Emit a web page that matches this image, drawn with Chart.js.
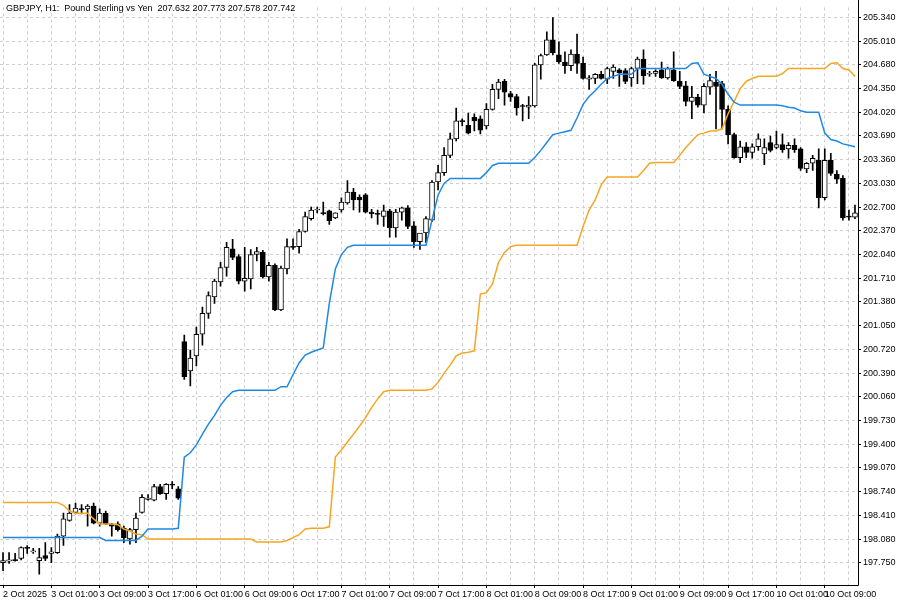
<!DOCTYPE html>
<html><head><meta charset="utf-8">
<script src="https://cdn.jsdelivr.net/npm/chart.js@4.4.1/dist/chart.umd.min.js"></script>
<style>html,body{margin:0;padding:0;background:#fff}#wrap{width:900px;height:600px}</style>
</head><body><div id="wrap"><canvas id="c" width="900" height="600"></canvas></div>
<script>
const titleText = "GBPJPY, H1:  Pound Sterling vs Yen  207.632 207.773 207.578 207.742";
const xTickLabels = ["2 Oct 2025","3 Oct 01:00","3 Oct 09:00","3 Oct 17:00","6 Oct 01:00","6 Oct 09:00","6 Oct 17:00","7 Oct 01:00","7 Oct 09:00","7 Oct 17:00","8 Oct 01:00","8 Oct 09:00","8 Oct 17:00","9 Oct 01:00","9 Oct 09:00","9 Oct 17:00","10 Oct 01:00","10 Oct 09:00"];
const yTickValues = [197.75,198.08,198.41,198.74,199.07,199.40,199.73,200.06,200.39,200.72,201.05,201.38,201.71,202.04,202.37,202.70,203.03,203.36,203.69,204.02,204.35,204.68,205.01,205.34];
const opens = [197.75,197.77,197.79,197.81,197.96,197.90,197.78,197.85,197.88,197.89,198.12,198.34,198.45,198.50,198.50,198.54,198.30,198.44,198.29,198.29,198.23,198.08,198.21,198.45,198.63,198.62,198.81,198.71,198.84,198.78,
200.83,200.42,200.63,200.93,201.22,201.45,201.66,201.86,202.12,202.01,201.67,201.70,202.04,202.07,201.73,201.89,201.27,201.84,202.15,202.15,202.36,202.54,202.66,202.62,202.65,202.55,202.66,202.76,202.91,202.84,
202.87,202.63,202.61,202.57,202.65,202.41,202.63,202.69,202.44,202.22,202.34,202.52,203.05,203.18,203.42,203.65,203.90,203.84,203.95,203.93,203.83,204.06,204.34,204.45,204.28,204.24,204.11,204.09,204.11,204.68,
204.82,205.03,204.82,204.72,204.67,204.83,204.70,204.48,204.49,204.55,204.48,204.59,204.61,204.60,204.50,204.63,204.76,204.55,204.56,204.61,204.50,204.61,204.45,204.39,204.17,204.23,204.12,204.37,204.44,204.42,
204.06,203.71,203.39,203.54,203.46,203.54,203.44,203.60,203.53,203.57,203.51,203.56,203.51,203.23,203.31,203.35,202.83,203.35,203.16,203.10,202.57,202.56];
const highs = [197.89,197.89,197.88,197.97,197.99,197.95,197.95,198.03,197.96,198.15,198.44,198.56,198.58,198.56,198.56,198.58,198.50,198.47,198.30,198.32,198.26,198.23,198.44,198.70,198.70,198.84,198.84,198.85,198.88,198.81,
200.92,200.71,201.03,201.31,201.52,201.70,201.93,202.21,202.25,202.04,202.14,202.11,202.14,202.10,201.93,201.91,201.88,202.26,202.26,202.39,202.63,202.70,202.70,202.77,202.66,202.62,202.83,203.07,202.96,202.87,
202.89,202.67,202.66,202.73,202.67,202.67,202.70,202.72,202.50,202.26,202.57,203.07,203.28,203.53,203.73,204.08,203.93,204.01,204.00,203.97,204.14,204.41,204.48,204.48,204.31,204.27,204.13,204.24,204.70,204.83,
205.14,205.34,205.00,204.86,204.89,205.11,204.79,204.53,204.56,204.59,204.65,204.68,204.63,204.63,204.65,204.79,204.89,204.59,204.61,204.72,204.65,204.86,204.59,204.45,204.38,204.27,204.42,204.55,204.59,204.45,
204.11,203.73,203.62,203.60,203.58,203.72,203.65,203.69,203.76,203.72,203.60,203.65,203.53,203.32,203.42,203.51,203.51,203.45,203.21,203.14,202.66,202.73];
const lows = [197.64,197.74,197.77,197.79,197.88,197.88,197.59,197.78,197.75,197.88,197.99,198.33,198.43,198.43,198.26,198.29,198.26,198.28,198.12,198.19,198.03,198.01,198.03,198.44,198.62,198.61,198.70,198.63,198.78,198.63,
200.30,200.21,200.49,200.78,201.15,201.36,201.60,201.74,201.97,201.63,201.53,201.56,201.95,201.71,201.67,201.26,201.26,201.77,202.11,202.06,202.35,202.52,202.62,202.59,202.46,202.54,202.63,202.74,202.66,202.63,
202.62,202.55,202.46,202.43,202.28,202.28,202.52,202.40,202.14,202.11,202.21,202.50,202.94,203.14,203.39,203.62,203.83,203.72,203.76,203.72,203.79,204.05,204.21,204.12,204.17,203.98,203.90,203.93,204.09,204.48,
204.81,204.82,204.70,204.56,204.60,204.56,204.48,204.34,204.42,204.48,204.42,204.49,204.38,204.42,204.38,204.42,204.41,204.52,204.52,204.49,204.48,204.45,204.35,204.11,203.93,204.09,204.01,204.27,203.79,203.79,
203.58,203.38,203.32,203.39,203.38,203.49,203.29,203.47,203.51,203.46,203.38,203.46,203.21,203.18,203.21,202.69,202.80,203.14,203.03,202.52,202.52,202.54];
const closes = [197.78,197.79,197.78,197.96,197.95,197.91,197.82,197.81,197.90,198.12,198.36,198.44,198.51,198.49,198.54,198.30,198.44,198.29,198.26,198.21,198.10,198.21,198.37,198.66,198.65,198.81,198.71,198.84,198.83,198.65,
200.34,200.60,200.93,201.22,201.47,201.67,201.86,202.14,202.00,201.67,201.71,202.04,202.08,201.73,201.89,201.27,201.85,202.15,202.14,202.36,202.57,202.66,202.67,202.61,202.51,202.62,202.77,202.91,202.80,202.80,
202.63,202.61,202.60,202.65,202.41,202.63,202.69,202.43,202.22,202.34,202.54,203.05,203.18,203.42,203.65,203.90,203.89,203.73,203.90,203.77,204.06,204.34,204.44,204.30,204.23,204.08,204.10,204.12,204.68,204.81,
205.03,204.85,204.72,204.67,204.83,204.70,204.49,204.50,204.55,204.49,204.63,204.65,204.57,204.45,204.63,204.76,204.53,204.56,204.59,204.50,204.63,204.46,204.38,204.17,204.23,204.12,204.38,204.46,204.38,204.06,
203.71,203.39,203.54,203.46,203.54,203.65,203.53,203.49,203.57,203.50,203.56,203.50,203.24,203.31,203.38,202.83,203.35,203.17,203.09,202.55,202.56,202.62];
const blueLine = [198.10,198.10,198.10,198.10,198.10,198.10,198.10,198.10,198.10,198.10,198.10,198.10,198.10,198.10,198.10,198.10,198.10,198.06,198.06,198.06,198.06,198.06,198.06,198.12,198.22,198.22,198.22,198.22,198.22,198.23,
199.22,199.28,199.39,199.54,199.68,199.80,199.94,200.05,200.13,200.15,200.15,200.15,200.15,200.15,200.15,200.15,200.20,200.20,200.37,200.53,200.64,200.68,200.71,200.74,201.36,201.84,202.04,202.14,202.17,202.17,
202.17,202.17,202.17,202.17,202.17,202.17,202.17,202.17,202.17,202.17,202.17,202.52,202.87,203.03,203.10,203.10,203.10,203.10,203.10,203.10,203.18,203.28,203.31,203.31,203.31,203.31,203.31,203.31,203.39,203.49,
203.60,203.71,203.73,203.75,203.77,203.94,204.13,204.24,204.32,204.41,204.49,204.52,204.55,204.55,204.55,204.63,204.63,204.63,204.63,204.63,204.63,204.63,204.63,204.63,204.70,204.71,204.55,204.52,204.49,204.41,
204.27,204.16,204.12,204.12,204.12,204.12,204.12,204.12,204.12,204.11,204.09,204.08,204.04,204.02,204.02,204.02,203.73,203.64,203.62,203.58,203.56,203.54];
const orangeLine = [198.59,198.59,198.59,198.59,198.59,198.59,198.59,198.59,198.59,198.59,198.55,198.47,198.44,198.44,198.44,198.36,198.29,198.29,198.29,198.28,198.22,198.19,198.15,198.14,198.08,198.08,198.08,198.08,198.08,198.08,
198.08,198.08,198.08,198.08,198.08,198.08,198.08,198.08,198.08,198.08,198.08,198.08,198.04,198.04,198.04,198.04,198.04,198.06,198.10,198.14,198.22,198.23,198.23,198.23,198.25,199.22,199.32,199.43,199.54,199.65,
199.77,199.91,200.03,200.13,200.15,200.15,200.15,200.15,200.15,200.15,200.15,200.17,200.26,200.39,200.50,200.63,200.67,200.68,200.70,201.49,201.51,201.63,201.93,202.07,202.15,202.17,202.17,202.17,202.17,202.17,
202.17,202.17,202.17,202.17,202.17,202.17,202.43,202.66,202.80,203.01,203.12,203.12,203.12,203.12,203.12,203.12,203.21,203.31,203.32,203.32,203.32,203.32,203.42,203.53,203.62,203.71,203.73,203.76,203.76,203.79,
204.00,204.17,204.35,204.45,204.49,204.52,204.52,204.52,204.52,204.56,204.63,204.63,204.63,204.63,204.63,204.63,204.63,204.70,204.71,204.63,204.61,204.52];

const labels = opens.map((_, i) => i);
const bodies = opens.map((o, i) => [o, closes[i]]);
const wicks = lows.map((l, i) => [l, highs[i]]);
const bodyColors = opens.map((o, i) => closes[i] >= o ? '#ffffff' : '#000000');
const FONT = '"Liberation Sans", Arial, sans-serif';

const framePlugin = {
  id: 'frame',
  afterDraw(chart) {
    const ctx = chart.ctx, a = chart.chartArea;
    ctx.save();
    ctx.strokeStyle = '#000'; ctx.lineWidth = 1; ctx.setLineDash([]);
    ctx.beginPath();
    ctx.moveTo(Math.round(a.right) + 0.5, 0); ctx.lineTo(Math.round(a.right) + 0.5, Math.round(a.bottom) + 0.5);
    ctx.lineTo(0, Math.round(a.bottom) + 0.5);
    ctx.stroke();
    ctx.font = '9px ' + FONT;
    ctx.fillStyle = '#000';
    ctx.textBaseline = 'top';
    ctx.fillText(titleText, 6, 4);
    ctx.restore();
  }
};

new Chart(document.getElementById('c'), {
  type: 'bar',
  data: {
    labels,
    datasets: [
      { type: 'line', data: blueLine, borderColor: '#1e88e5', borderWidth: 1.5, pointRadius: 0, tension: 0, order: 0 },
      { type: 'line', data: orangeLine, borderColor: '#f5a623', borderWidth: 1.5, pointRadius: 0, tension: 0, order: 0 },
      { data: bodies, backgroundColor: bodyColors, borderColor: '#000', borderWidth: 1, borderSkipped: false, barThickness: 5, grouped: false, order: 1, minBarLength: 1 },
      { data: wicks, backgroundColor: '#000', borderWidth: 0, barThickness: 1, grouped: false, order: 2 }
    ]
  },
  options: {
    responsive: false,
    animation: false,
    layout: { padding: 0 },
    plugins: { legend: { display: false }, tooltip: { enabled: false } },
    scales: {
      x: {
        offset: true,
        grid: { color: '#cfcfcf', tickColor: '#000', tickLength: 3, offset: false,
                lineWidth: c => (c.index % 4 === 0 ? 1 : 0),
                tickWidth: c => (c.index % 8 === 0 ? 1 : 0) },
        border: { display: false, dash: [3, 3] },
        ticks: { autoSkip: false, maxRotation: 0, font: { size: 9, family: FONT }, color: '#000', padding: 1,
                 align: 'start',
                 callback: (v, i) => (i % 8 === 0 ? xTickLabels[i / 8] : '') },
        afterFit: s => { s.height = 15; }
      },
      y: {
        position: 'right',
        min: 197.44, max: 205.48,
        afterBuildTicks: s => { s.ticks = yTickValues.map(v => ({ value: v })); },
        grid: { color: '#cfcfcf', tickColor: '#000', tickLength: 3 },
        border: { display: false, dash: [3, 3] },
        ticks: { font: { size: 9, family: FONT }, color: '#000', padding: 2, callback: v => v.toFixed(3) },
        afterFit: s => { s.width = 42; }
      }
    }
  },
  plugins: [framePlugin]
});
</script></body></html>
